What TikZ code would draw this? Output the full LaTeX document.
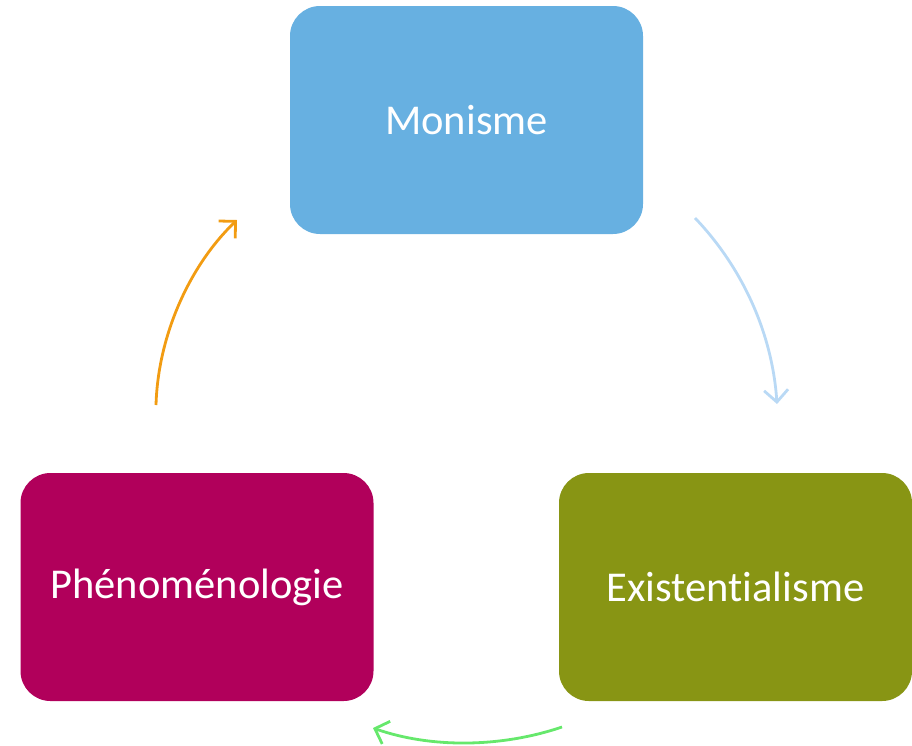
\documentclass[tikz,border=0pt]{standalone}
\usepackage{fontspec}
\setmainfont[Ligatures=NoCommon]{Carlito}
\usetikzlibrary{arrows.meta}
\definecolor{boxblue}{HTML}{67B0E1}
\definecolor{boxmag}{HTML}{B1005B}
\definecolor{boxolive}{HTML}{889514}
\definecolor{arrorange}{HTML}{F29C12}
\definecolor{arrblue}{HTML}{B9D9F5}
\definecolor{arrgreen}{HTML}{66E86C}
\tikzset{
  stagebox/.style={rounded corners=30pt, minimum width=353pt, minimum height=228pt,
    inner sep=0pt, text=white, font=\fontsize{42.5}{48}\selectfont},
  cyclearrow/.style={line width=2.8pt, -{Straight Barb[length=12pt,width=24pt,line width=2.8pt]}}
}
\begin{document}
\begin{tikzpicture}[x=1pt,y=-1pt]
\useasboundingbox (0,0) rectangle (912,745);
\node[stagebox, fill=boxblue] (mon) at (466.5,120) {Monisme};
\node[stagebox, fill=boxmag] (phe) at (197,587) {Phénoménologie};
\node[stagebox, fill=boxolive] (exi) at (735.5,587) {Existentialisme};
\coordinate (o1) at (156,405);
\coordinate (o2) at (237,220);
\coordinate (b1) at (695,218);
\coordinate (b2) at (777,404);
\coordinate (g1) at (562,727);
\coordinate (g2) at (373,728);
\draw[cyclearrow, arrorange] (o1) .. controls (158,335) and (190,265) .. (o2);
\draw[cyclearrow, arrblue] (b1) .. controls (740,265) and (772,330) .. (b2);
\draw[cyclearrow, arrgreen] (g1) .. controls (500,748) and (430,748) .. (g2);
\end{tikzpicture}
\end{document}
